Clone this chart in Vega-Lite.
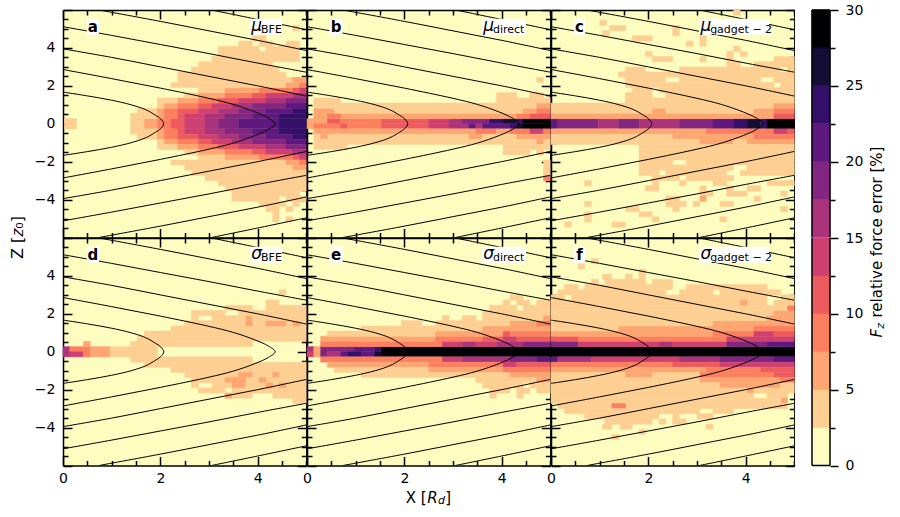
{"$schema":"https://vega.github.io/schema/vega-lite/v6.json","background":"white","padding":{"left":9,"top":3,"right":5,"bottom":5},"spacing":0,"bounds":"flush","columns":4,
"config":{"view":{"fill":"#fcfdbf","stroke":null},"text":{"font":"DejaVu Sans","color":"black"},"rect":{"strokeWidth":0.5},"axis":{"grid":false,"domainColor":"black","domainWidth":1.5,"tickColor":"black","tickWidth":1.5,"labelFont":"DejaVu Sans","labelFontSize":14,"labelColor":"black","labelOverlap":false,"labelFlush":false,"zindex":1}},
"datasets":{
"contours":[{"curve":"1","i":1,"x":0,"z":1.67},{"curve":"1","i":2,"x":0.5,"z":1.47},{"curve":"1","i":3,"x":1,"z":1.24},{"curve":"1","i":4,"x":1.4,"z":1},{"curve":"1","i":5,"x":1.7,"z":0.74},{"curve":"1","i":6,"x":1.9,"z":0.45},{"curve":"1","i":7,"x":2.01,"z":0.25},{"curve":"1","i":8,"x":2.07,"z":0},{"curve":"1","i":9,"x":2.01,"z":-0.25},{"curve":"1","i":10,"x":1.9,"z":-0.45},{"curve":"1","i":11,"x":1.7,"z":-0.74},{"curve":"1","i":12,"x":1.4,"z":-1},{"curve":"1","i":13,"x":1,"z":-1.24},{"curve":"1","i":14,"x":0.5,"z":-1.47},{"curve":"1","i":15,"x":0,"z":-1.67},
{"curve":"2","i":1,"x":0,"z":2.86},{"curve":"2","i":2,"x":1,"z":2.38},{"curve":"2","i":3,"x":2,"z":1.88},{"curve":"2","i":4,"x":3,"z":1.34},{"curve":"2","i":5,"x":3.5,"z":1.02},{"curve":"2","i":6,"x":3.95,"z":0.62},{"curve":"2","i":7,"x":4.22,"z":0.3},{"curve":"2","i":8,"x":4.36,"z":0},{"curve":"2","i":9,"x":4.22,"z":-0.3},{"curve":"2","i":10,"x":3.95,"z":-0.62},{"curve":"2","i":11,"x":3.5,"z":-1.02},{"curve":"2","i":12,"x":3,"z":-1.34},{"curve":"2","i":13,"x":2,"z":-1.88},{"curve":"2","i":14,"x":1,"z":-2.38},{"curve":"2","i":15,"x":0,"z":-2.86},
{"curve":"3u","i":1,"x":0,"z":3.95},{"curve":"3u","i":2,"x":1,"z":3.5},{"curve":"3u","i":3,"x":2,"z":3},{"curve":"3u","i":4,"x":3,"z":2.5},{"curve":"3u","i":5,"x":4,"z":2},{"curve":"3u","i":6,"x":5,"z":1.46},
{"curve":"3l","i":1,"x":0,"z":-3.95},{"curve":"3l","i":2,"x":1,"z":-3.5},{"curve":"3l","i":3,"x":2,"z":-3},{"curve":"3l","i":4,"x":3,"z":-2.5},{"curve":"3l","i":5,"x":4,"z":-2},{"curve":"3l","i":6,"x":5,"z":-1.46},
{"curve":"4u","i":1,"x":0,"z":5.12},{"curve":"4u","i":2,"x":1,"z":4.66},{"curve":"4u","i":3,"x":2,"z":4.18},{"curve":"4u","i":4,"x":3,"z":3.7},{"curve":"4u","i":5,"x":4,"z":3.2},{"curve":"4u","i":6,"x":5,"z":2.72},
{"curve":"4l","i":1,"x":0,"z":-5.12},{"curve":"4l","i":2,"x":1,"z":-4.66},{"curve":"4l","i":3,"x":2,"z":-4.18},{"curve":"4l","i":4,"x":3,"z":-3.7},{"curve":"4l","i":5,"x":4,"z":-3.2},{"curve":"4l","i":6,"x":5,"z":-2.72},
{"curve":"5u","i":1,"x":0.74,"z":6},{"curve":"5u","i":2,"x":2,"z":5.4},{"curve":"5u","i":3,"x":3,"z":4.9},{"curve":"5u","i":4,"x":4,"z":4.4},{"curve":"5u","i":5,"x":5,"z":3.86},
{"curve":"5l","i":1,"x":0.74,"z":-6},{"curve":"5l","i":2,"x":2,"z":-5.4},{"curve":"5l","i":3,"x":3,"z":-4.9},{"curve":"5l","i":4,"x":4,"z":-4.4},{"curve":"5l","i":5,"x":5,"z":-3.86},
{"curve":"6u","i":1,"x":3.05,"z":6},{"curve":"6u","i":2,"x":4,"z":5.5},{"curve":"6u","i":3,"x":5,"z":4.96},
{"curve":"6l","i":1,"x":3.05,"z":-6},{"curve":"6l","i":2,"x":4,"z":-5.5},{"curve":"6l","i":3,"x":5,"z":-4.96}],
"bar":[{"lo":0,"hi":2.5,"v":1},{"lo":2.5,"hi":5,"v":4},{"lo":5,"hi":7.5,"v":6},{"lo":7.5,"hi":10,"v":9},{"lo":10,"hi":12.5,"v":11},{"lo":12.5,"hi":15,"v":14},{"lo":15,"hi":17.5,"v":16},{"lo":17.5,"hi":20,"v":19},{"lo":20,"hi":22.5,"v":21},{"lo":22.5,"hi":25,"v":24},{"lo":25,"hi":27.5,"v":26},{"lo":27.5,"hi":30,"v":29}],
"a":[{"x":0.03,"x2":0.28,"z":-0.27,"z2":0.27,"v":4},{"x":1.39,"x2":1.67,"z":-0.27,"z2":0.27,"v":4},{"x":1.67,"x2":1.94,"z":-0.27,"z2":0.27,"v":6},{"x":1.94,"x2":2.22,"z":-0.27,"z2":0.27,"v":9},{"x":2.22,"x2":2.5,"z":-0.27,"z2":0.27,"v":11},{"x":2.5,"x2":2.92,"z":-0.27,"z2":0.27,"v":14},{"x":2.92,"x2":3.19,"z":-0.27,"z2":0.27,"v":16},{"x":3.19,"x2":3.61,"z":-0.27,"z2":0.27,"v":19},{"x":3.61,"x2":4.44,"z":-0.27,"z2":0.27,"v":21},{"x":4.44,"x2":5,"z":-0.27,"z2":0.27,"v":24},
{"x":1.39,"x2":1.94,"z":0.27,"z2":0.55,"v":4},{"x":1.94,"x2":2.08,"z":0.27,"z2":0.55,"v":6},{"x":2.08,"x2":2.36,"z":0.27,"z2":0.55,"v":9},{"x":2.36,"x2":2.5,"z":0.27,"z2":0.55,"v":11},{"x":2.5,"x2":2.92,"z":0.27,"z2":0.55,"v":14},{"x":2.92,"x2":3.33,"z":0.27,"z2":0.55,"v":16},{"x":3.33,"x2":3.89,"z":0.27,"z2":0.55,"v":19},{"x":3.89,"x2":4.44,"z":0.27,"z2":0.55,"v":21},{"x":4.44,"x2":5,"z":0.27,"z2":0.55,"v":24},
{"x":1.39,"x2":1.94,"z":-0.55,"z2":-0.27,"v":4},{"x":1.94,"x2":2.08,"z":-0.55,"z2":-0.27,"v":6},{"x":2.08,"x2":2.36,"z":-0.55,"z2":-0.27,"v":9},{"x":2.36,"x2":2.5,"z":-0.55,"z2":-0.27,"v":11},{"x":2.5,"x2":2.92,"z":-0.55,"z2":-0.27,"v":14},{"x":2.92,"x2":3.33,"z":-0.55,"z2":-0.27,"v":16},{"x":3.33,"x2":3.89,"z":-0.55,"z2":-0.27,"v":19},{"x":3.89,"x2":4.44,"z":-0.55,"z2":-0.27,"v":21},{"x":4.44,"x2":5,"z":-0.55,"z2":-0.27,"v":24},
{"x":1.53,"x2":1.94,"z":0.55,"z2":0.82,"v":4},{"x":1.94,"x2":2.08,"z":0.55,"z2":0.82,"v":6},{"x":2.08,"x2":2.36,"z":0.55,"z2":0.82,"v":9},{"x":2.36,"x2":2.78,"z":0.55,"z2":0.82,"v":11},{"x":2.78,"x2":3.19,"z":0.55,"z2":0.82,"v":14},{"x":3.19,"x2":3.61,"z":0.55,"z2":0.82,"v":16},{"x":3.61,"x2":4.17,"z":0.55,"z2":0.82,"v":19},{"x":4.17,"x2":4.72,"z":0.55,"z2":0.82,"v":21},{"x":4.72,"x2":5,"z":0.55,"z2":0.82,"v":24},
{"x":1.53,"x2":1.94,"z":-0.82,"z2":-0.55,"v":4},{"x":1.94,"x2":2.08,"z":-0.82,"z2":-0.55,"v":6},{"x":2.08,"x2":2.36,"z":-0.82,"z2":-0.55,"v":9},{"x":2.36,"x2":2.78,"z":-0.82,"z2":-0.55,"v":11},{"x":2.78,"x2":3.19,"z":-0.82,"z2":-0.55,"v":14},{"x":3.19,"x2":3.61,"z":-0.82,"z2":-0.55,"v":16},{"x":3.61,"x2":4.17,"z":-0.82,"z2":-0.55,"v":19},{"x":4.17,"x2":4.72,"z":-0.82,"z2":-0.55,"v":21},{"x":4.72,"x2":5,"z":-0.82,"z2":-0.55,"v":24},
{"x":1.94,"x2":2.08,"z":0.82,"z2":1.09,"v":4},{"x":2.08,"x2":2.36,"z":0.82,"z2":1.09,"v":6},{"x":2.36,"x2":2.78,"z":0.82,"z2":1.09,"v":9},{"x":2.78,"x2":3.06,"z":0.82,"z2":1.09,"v":11},{"x":3.06,"x2":3.47,"z":0.82,"z2":1.09,"v":14},{"x":3.47,"x2":3.89,"z":0.82,"z2":1.09,"v":16},{"x":3.89,"x2":4.58,"z":0.82,"z2":1.09,"v":19},{"x":4.58,"x2":5,"z":0.82,"z2":1.09,"v":21},
{"x":1.94,"x2":2.08,"z":-1.09,"z2":-0.82,"v":4},{"x":2.08,"x2":2.36,"z":-1.09,"z2":-0.82,"v":6},{"x":2.36,"x2":2.78,"z":-1.09,"z2":-0.82,"v":9},{"x":2.78,"x2":3.06,"z":-1.09,"z2":-0.82,"v":11},{"x":3.06,"x2":3.47,"z":-1.09,"z2":-0.82,"v":14},{"x":3.47,"x2":3.89,"z":-1.09,"z2":-0.82,"v":16},{"x":3.89,"x2":4.58,"z":-1.09,"z2":-0.82,"v":19},{"x":4.58,"x2":5,"z":-1.09,"z2":-0.82,"v":21},
{"x":1.94,"x2":2.36,"z":1.09,"z2":1.36,"v":4},{"x":2.36,"x2":2.78,"z":1.09,"z2":1.36,"v":6},{"x":2.78,"x2":3.19,"z":1.09,"z2":1.36,"v":9},{"x":3.19,"x2":3.61,"z":1.09,"z2":1.36,"v":11},{"x":3.61,"x2":4.17,"z":1.09,"z2":1.36,"v":14},{"x":4.17,"x2":4.58,"z":1.09,"z2":1.36,"v":16},{"x":4.58,"x2":5,"z":1.09,"z2":1.36,"v":19},
{"x":1.94,"x2":2.36,"z":-1.36,"z2":-1.09,"v":4},{"x":2.36,"x2":2.78,"z":-1.36,"z2":-1.09,"v":6},{"x":2.78,"x2":3.19,"z":-1.36,"z2":-1.09,"v":9},{"x":3.19,"x2":3.61,"z":-1.36,"z2":-1.09,"v":11},{"x":3.61,"x2":4.17,"z":-1.36,"z2":-1.09,"v":14},{"x":4.17,"x2":4.58,"z":-1.36,"z2":-1.09,"v":16},{"x":4.58,"x2":5,"z":-1.36,"z2":-1.09,"v":19},
{"x":2.5,"x2":2.78,"z":1.36,"z2":1.64,"v":4},{"x":2.78,"x2":3.33,"z":1.36,"z2":1.64,"v":6},{"x":3.33,"x2":3.89,"z":1.36,"z2":1.64,"v":9},{"x":3.89,"x2":4.17,"z":1.36,"z2":1.64,"v":11},{"x":4.17,"x2":4.72,"z":1.36,"z2":1.64,"v":14},{"x":4.72,"x2":5,"z":1.36,"z2":1.64,"v":16},
{"x":2.5,"x2":2.78,"z":-1.64,"z2":-1.36,"v":4},{"x":2.78,"x2":3.33,"z":-1.64,"z2":-1.36,"v":6},{"x":3.33,"x2":3.89,"z":-1.64,"z2":-1.36,"v":9},{"x":3.89,"x2":4.17,"z":-1.64,"z2":-1.36,"v":11},{"x":4.17,"x2":4.72,"z":-1.64,"z2":-1.36,"v":14},{"x":4.72,"x2":5,"z":-1.64,"z2":-1.36,"v":16},
{"x":2.78,"x2":3.33,"z":1.64,"z2":1.91,"v":4},{"x":3.33,"x2":4.03,"z":1.64,"z2":1.91,"v":6},{"x":4.03,"x2":4.72,"z":1.64,"z2":1.91,"v":9},{"x":4.72,"x2":4.86,"z":1.64,"z2":1.91,"v":11},{"x":4.86,"x2":5,"z":1.64,"z2":1.91,"v":14},
{"x":2.78,"x2":3.33,"z":-1.91,"z2":-1.64,"v":4},{"x":3.33,"x2":4.03,"z":-1.91,"z2":-1.64,"v":6},{"x":4.03,"x2":4.72,"z":-1.91,"z2":-1.64,"v":9},{"x":4.72,"x2":4.86,"z":-1.91,"z2":-1.64,"v":11},{"x":4.86,"x2":5,"z":-1.91,"z2":-1.64,"v":14},
{"x":2.22,"x2":4.58,"z":1.91,"z2":2.18,"v":4},{"x":4.58,"x2":4.86,"z":1.91,"z2":2.18,"v":6},{"x":4.86,"x2":5,"z":1.91,"z2":2.18,"v":9},{"x":2.36,"x2":4.72,"z":2.18,"z2":2.45,"v":4},{"x":4.72,"x2":5,"z":2.18,"z2":2.45,"v":6},{"x":2.36,"x2":4.58,"z":2.45,"z2":2.73,"v":4},{"x":2.64,"x2":4.44,"z":2.73,"z2":3,"v":4},{"x":2.78,"x2":4.31,"z":3,"z2":3.27,"v":4},{"x":3.06,"x2":4.86,"z":3.27,"z2":3.55,"v":4},{"x":3.19,"x2":4.86,"z":3.55,"z2":3.82,"v":4},{"x":3.19,"x2":4.03,"z":3.82,"z2":4.09,"v":4},{"x":4.17,"x2":4.86,"z":3.82,"z2":4.09,"v":4},{"x":3.61,"x2":3.89,"z":4.09,"z2":4.36,"v":4},{"x":4.03,"x2":4.31,"z":4.09,"z2":4.36,"v":4},{"x":4.58,"x2":4.86,"z":4.09,"z2":4.36,"v":4},{"x":3.89,"x2":4.17,"z":4.36,"z2":4.64,"v":4},{"x":4.72,"x2":4.86,"z":4.91,"z2":5.18,"v":4},
{"x":2.22,"x2":4.58,"z":-2.18,"z2":-1.91,"v":4},{"x":4.58,"x2":4.86,"z":-2.18,"z2":-1.91,"v":6},{"x":4.86,"x2":5,"z":-2.18,"z2":-1.91,"v":9},{"x":2.5,"x2":4.72,"z":-2.45,"z2":-2.18,"v":4},{"x":4.72,"x2":5,"z":-2.45,"z2":-2.18,"v":6},{"x":2.64,"x2":5,"z":-2.73,"z2":-2.45,"v":4},{"x":2.92,"x2":5,"z":-3,"z2":-2.73,"v":4},{"x":3.19,"x2":5,"z":-3.27,"z2":-3,"v":4},{"x":3.33,"x2":5,"z":-3.55,"z2":-3.27,"v":4},{"x":3.47,"x2":4.86,"z":-3.82,"z2":-3.55,"v":4},{"x":3.47,"x2":4.44,"z":-4.09,"z2":-3.82,"v":4},{"x":4.58,"x2":5,"z":-4.09,"z2":-3.82,"v":4},{"x":4.03,"x2":4.58,"z":-4.36,"z2":-4.09,"v":4},{"x":4.72,"x2":4.86,"z":-4.36,"z2":-4.09,"v":4},{"x":4.17,"x2":4.44,"z":-4.64,"z2":-4.36,"v":4},{"x":4.58,"x2":4.72,"z":-4.64,"z2":-4.36,"v":4},{"x":4.31,"x2":4.44,"z":-4.91,"z2":-4.64,"v":4},{"x":4.31,"x2":4.44,"z":-5.18,"z2":-4.91,"v":4},{"x":4.58,"x2":4.72,"z":-5.18,"z2":-4.91,"v":4}],
"b":[{"x":0,"x2":0.42,"z":0,"z2":0.27,"v":6},{"x":0.42,"x2":0.69,"z":0,"z2":0.27,"v":11},{"x":0.69,"x2":1.53,"z":0,"z2":0.27,"v":9},{"x":1.53,"x2":2.5,"z":0,"z2":0.27,"v":11},{"x":2.5,"x2":2.92,"z":0,"z2":0.27,"v":14},{"x":2.92,"x2":3.19,"z":0,"z2":0.27,"v":16},{"x":3.19,"x2":3.75,"z":0,"z2":0.27,"v":19},{"x":3.75,"x2":4.03,"z":0,"z2":0.27,"v":24},{"x":4.03,"x2":4.31,"z":0,"z2":0.27,"v":26},{"x":4.31,"x2":4.44,"z":0,"z2":0.27,"v":24},{"x":4.44,"x2":5,"z":0,"z2":0.27,"v":29},
{"x":0,"x2":0.14,"z":-0.27,"z2":0,"v":6},{"x":0.14,"x2":0.69,"z":-0.27,"z2":0,"v":9},{"x":0.69,"x2":0.83,"z":-0.27,"z2":0,"v":11},{"x":0.83,"x2":1.53,"z":-0.27,"z2":0,"v":9},{"x":1.53,"x2":2.5,"z":-0.27,"z2":0,"v":11},{"x":2.5,"x2":2.92,"z":-0.27,"z2":0,"v":14},{"x":2.92,"x2":3.33,"z":-0.27,"z2":0,"v":16},{"x":3.33,"x2":3.47,"z":-0.27,"z2":0,"v":21},{"x":3.47,"x2":3.61,"z":-0.27,"z2":0,"v":16},{"x":3.61,"x2":4.17,"z":-0.27,"z2":0,"v":21},{"x":4.17,"x2":4.31,"z":-0.27,"z2":0,"v":24},{"x":4.31,"x2":4.44,"z":-0.27,"z2":0,"v":26},{"x":4.44,"x2":5,"z":-0.27,"z2":0,"v":29},
{"x":0.14,"x2":4.31,"z":0.27,"z2":0.55,"v":6},{"x":0.42,"x2":0.69,"z":0.27,"z2":0.55,"v":9},{"x":4.31,"x2":4.58,"z":0.27,"z2":0.55,"v":9},{"x":4.58,"x2":5,"z":0.27,"z2":0.55,"v":11},
{"x":0.14,"x2":3.47,"z":-0.55,"z2":-0.27,"v":6},{"x":3.47,"x2":3.89,"z":-0.55,"z2":-0.27,"v":9},{"x":3.89,"x2":4.17,"z":-0.55,"z2":-0.27,"v":6},{"x":4.17,"x2":4.58,"z":-0.55,"z2":-0.27,"v":9},{"x":4.58,"x2":4.86,"z":-0.55,"z2":-0.27,"v":14},{"x":4.86,"x2":5,"z":-0.55,"z2":-0.27,"v":9},
{"x":0.14,"x2":0.56,"z":0.55,"z2":0.82,"v":6},{"x":0.56,"x2":4.44,"z":0.55,"z2":0.82,"v":4},{"x":4.44,"x2":4.72,"z":0.55,"z2":0.82,"v":6},{"x":4.72,"x2":5,"z":0.55,"z2":0.82,"v":9},
{"x":0.14,"x2":3.33,"z":-0.82,"z2":-0.55,"v":4},{"x":0.28,"x2":0.42,"z":-0.82,"z2":-0.55,"v":6},{"x":3.33,"x2":3.61,"z":-0.82,"z2":-0.55,"v":6},{"x":3.61,"x2":4.31,"z":-0.82,"z2":-0.55,"v":4},{"x":4.31,"x2":5,"z":-0.82,"z2":-0.55,"v":6},
{"x":0.14,"x2":4.72,"z":0.82,"z2":1.09,"v":4},{"x":4.72,"x2":5,"z":0.82,"z2":1.09,"v":6},{"x":0.14,"x2":4.72,"z":-1.09,"z2":-0.82,"v":4},{"x":4.72,"x2":4.86,"z":-1.09,"z2":-0.82,"v":6},{"x":4.86,"x2":5,"z":-1.09,"z2":-0.82,"v":4},
{"x":0.14,"x2":0.69,"z":1.09,"z2":1.36,"v":4},{"x":3.89,"x2":5,"z":1.09,"z2":1.36,"v":4},{"x":0.14,"x2":0.83,"z":-1.36,"z2":-1.09,"v":4},{"x":4.03,"x2":5,"z":-1.36,"z2":-1.09,"v":4},{"x":3.89,"x2":4.31,"z":1.36,"z2":1.64,"v":4},{"x":4.58,"x2":4.86,"z":1.36,"z2":1.64,"v":4},{"x":4.03,"x2":4.58,"z":-1.64,"z2":-1.36,"v":4},{"x":4.72,"x2":4.86,"z":-1.64,"z2":-1.36,"v":4},{"x":4.72,"x2":4.86,"z":2.18,"z2":2.45,"v":4},{"x":4.86,"x2":5,"z":-2.45,"z2":-1.91,"v":4},{"x":4.86,"x2":5,"z":-3,"z2":-2.73,"v":9},{"x":4.86,"x2":5,"z":-2.73,"z2":-2.45,"v":4}],
"c":[{"x":0,"x2":0.14,"z":-0.27,"z2":0.27,"v":21},{"x":0.14,"x2":0.97,"z":-0.27,"z2":0.27,"v":19},{"x":0.97,"x2":1.39,"z":-0.27,"z2":0.27,"v":16},{"x":1.39,"x2":1.81,"z":-0.27,"z2":0.27,"v":19},{"x":1.81,"x2":2.64,"z":-0.27,"z2":0.27,"v":16},{"x":2.64,"x2":3.33,"z":-0.27,"z2":0.27,"v":19},{"x":3.33,"x2":3.75,"z":-0.27,"z2":0.27,"v":21},{"x":3.75,"x2":4.03,"z":-0.27,"z2":0.27,"v":24},{"x":4.03,"x2":4.31,"z":-0.27,"z2":0.27,"v":26},{"x":4.31,"x2":4.44,"z":-0.27,"z2":0.27,"v":24},{"x":4.44,"x2":5,"z":-0.27,"z2":0.27,"v":29},
{"x":0,"x2":4.58,"z":0.27,"z2":0.55,"v":6},{"x":4.58,"x2":5,"z":0.27,"z2":0.55,"v":11},{"x":0,"x2":3.19,"z":-0.55,"z2":-0.27,"v":6},{"x":3.19,"x2":4.58,"z":-0.55,"z2":-0.27,"v":9},{"x":4.58,"x2":4.86,"z":-0.55,"z2":-0.27,"v":14},{"x":4.86,"x2":5,"z":-0.55,"z2":-0.27,"v":11},
{"x":0,"x2":2.08,"z":0.55,"z2":0.82,"v":4},{"x":2.08,"x2":2.36,"z":0.55,"z2":0.82,"v":6},{"x":2.36,"x2":4.17,"z":0.55,"z2":0.82,"v":4},{"x":4.17,"x2":4.58,"z":0.55,"z2":0.82,"v":6},{"x":4.58,"x2":5,"z":0.55,"z2":0.82,"v":9},{"x":0,"x2":2.5,"z":-0.82,"z2":-0.55,"v":4},{"x":2.5,"x2":4.17,"z":-0.82,"z2":-0.55,"v":6},{"x":4.17,"x2":5,"z":-0.82,"z2":-0.55,"v":9},
{"x":0,"x2":4.58,"z":0.82,"z2":1.09,"v":4},{"x":4.58,"x2":5,"z":0.82,"z2":1.09,"v":6},{"x":0,"x2":3.06,"z":-1.09,"z2":-0.82,"v":4},{"x":3.06,"x2":3.75,"z":-1.09,"z2":-0.82,"v":6},{"x":3.75,"x2":4.03,"z":-1.09,"z2":-0.82,"v":4},{"x":4.03,"x2":5,"z":-1.09,"z2":-0.82,"v":6},
{"x":1.53,"x2":5,"z":1.09,"z2":1.36,"v":4},{"x":1.81,"x2":5,"z":-1.36,"z2":-1.09,"v":4},{"x":1.53,"x2":2.08,"z":1.36,"z2":1.64,"v":4},{"x":2.36,"x2":5,"z":1.36,"z2":1.64,"v":4},{"x":1.81,"x2":5,"z":-1.64,"z2":-1.36,"v":4},{"x":1.67,"x2":2.08,"z":1.64,"z2":1.91,"v":4},{"x":2.22,"x2":5,"z":1.64,"z2":1.91,"v":4},{"x":1.81,"x2":5,"z":-1.91,"z2":-1.64,"v":4},
{"x":1.53,"x2":4.58,"z":1.91,"z2":2.18,"v":4},{"x":4.72,"x2":5,"z":1.91,"z2":2.18,"v":4},{"x":1.81,"x2":2.5,"z":-2.18,"z2":-1.91,"v":4},{"x":2.78,"x2":5,"z":-2.18,"z2":-1.91,"v":4},{"x":1.53,"x2":2.36,"z":2.18,"z2":2.45,"v":4},{"x":2.64,"x2":4.31,"z":2.18,"z2":2.45,"v":4},{"x":4.58,"x2":5,"z":2.18,"z2":2.45,"v":4},{"x":1.81,"x2":3.75,"z":-2.45,"z2":-2.18,"v":4},{"x":4.03,"x2":5,"z":-2.45,"z2":-2.18,"v":4},
{"x":1.39,"x2":5,"z":2.45,"z2":2.73,"v":4},{"x":1.81,"x2":2.22,"z":-2.73,"z2":-2.45,"v":4},{"x":2.36,"x2":3.61,"z":-2.73,"z2":-2.45,"v":4},{"x":3.89,"x2":5,"z":-2.73,"z2":-2.45,"v":4},{"x":1.53,"x2":1.94,"z":2.73,"z2":3,"v":4},{"x":2.64,"x2":4.72,"z":2.73,"z2":3,"v":4},{"x":4.86,"x2":5,"z":2.73,"z2":3,"v":4},{"x":2.08,"x2":2.64,"z":-3,"z2":-2.73,"v":4},{"x":2.78,"x2":3.75,"z":-3,"z2":-2.73,"v":4},{"x":3.61,"x2":3.89,"z":3,"z2":3.27,"v":4},{"x":4.17,"x2":5,"z":3,"z2":3.27,"v":4},{"x":0.69,"x2":0.83,"z":-3.27,"z2":-3,"v":4},{"x":2.08,"x2":2.22,"z":-3.27,"z2":-3,"v":4},{"x":2.64,"x2":2.78,"z":-3.27,"z2":-3,"v":4},{"x":3.33,"x2":3.61,"z":-3.27,"z2":-3,"v":4},{"x":4.44,"x2":5,"z":-3.27,"z2":-3,"v":4},
{"x":2.08,"x2":2.5,"z":3.27,"z2":3.55,"v":4},{"x":3.06,"x2":3.19,"z":3.27,"z2":3.55,"v":4},{"x":3.61,"x2":3.75,"z":3.27,"z2":3.55,"v":4},{"x":4.58,"x2":5,"z":3.27,"z2":3.55,"v":4},{"x":1.94,"x2":2.08,"z":3.55,"z2":3.82,"v":4},{"x":3.61,"x2":3.75,"z":3.55,"z2":3.82,"v":4},{"x":3.89,"x2":4.03,"z":3.55,"z2":3.82,"v":4},{"x":3.75,"x2":3.89,"z":3.82,"z2":4.09,"v":4},{"x":2.78,"x2":2.92,"z":4.09,"z2":4.36,"v":4},{"x":3.06,"x2":3.19,"z":4.09,"z2":4.64,"v":4},{"x":1.67,"x2":2.08,"z":4.36,"z2":4.64,"v":4},{"x":1.06,"x2":1.2,"z":4.64,"z2":4.91,"v":4},{"x":2.5,"x2":2.64,"z":4.64,"z2":5.18,"v":4},{"x":1.2,"x2":1.53,"z":4.91,"z2":5.18,"v":4},{"x":1.0,"x2":1.14,"z":5.18,"z2":5.45,"v":4},{"x":3.75,"x2":3.89,"z":5.73,"z2":6,"v":4},
{"x":3.06,"x2":3.19,"z":-3.55,"z2":-3.27,"v":4},{"x":1.94,"x2":2.22,"z":-3.55,"z2":-3.27,"v":4},{"x":3.6,"x2":3.75,"z":-3.55,"z2":-3.27,"v":4},{"x":4.03,"x2":4.31,"z":-3.55,"z2":-3.27,"v":4},{"x":3.06,"x2":3.19,"z":-3.82,"z2":-3.55,"v":4},{"x":3.19,"x2":3.33,"z":-3.82,"z2":-3.55,"v":4},{"x":3.61,"x2":4.03,"z":-3.82,"z2":-3.55,"v":4},{"x":2.36,"x2":2.64,"z":-4.09,"z2":-3.82,"v":4},{"x":3.06,"x2":3.19,"z":-4.09,"z2":-3.82,"v":6},{"x":4.17,"x2":4.31,"z":-4.09,"z2":-3.82,"v":4},{"x":4.72,"x2":4.86,"z":-3.82,"z2":-3.55,"v":4},{"x":0.69,"x2":0.83,"z":-4.36,"z2":-4.09,"v":4},{"x":2.36,"x2":2.78,"z":-4.36,"z2":-4.09,"v":4},{"x":2.92,"x2":3.06,"z":-4.36,"z2":-4.09,"v":4},{"x":3.47,"x2":3.75,"z":-4.36,"z2":-4.09,"v":4},{"x":4.72,"x2":4.86,"z":-4.64,"z2":-4.36,"v":4},{"x":1.53,"x2":1.81,"z":-4.64,"z2":-4.36,"v":4},{"x":2.5,"x2":2.64,"z":-4.64,"z2":-4.36,"v":4},{"x":0.69,"x2":0.83,"z":-5.18,"z2":-4.64,"v":4},{"x":1.81,"x2":2.08,"z":-4.91,"z2":-4.64,"v":4},{"x":3.47,"x2":3.61,"z":-5.18,"z2":-4.91,"v":4},{"x":0.28,"x2":0.42,"z":-5.45,"z2":-5.18,"v":4},{"x":1.25,"x2":1.53,"z":-5.45,"z2":-5.18,"v":4},{"x":2.08,"x2":2.22,"z":-5.18,"z2":-4.91,"v":4}],
"d":[{"x":0,"x2":0.14,"z":-0.27,"z2":0.27,"v":16},{"x":0.14,"x2":0.42,"z":0,"z2":0.27,"v":9},{"x":0.14,"x2":0.42,"z":-0.27,"z2":0,"v":14},{"x":0.42,"x2":0.56,"z":-0.27,"z2":0.27,"v":9},{"x":0.56,"x2":0.97,"z":-0.27,"z2":0.27,"v":6},{"x":0.97,"x2":1.94,"z":-0.27,"z2":0.27,"v":4},{"x":0.42,"x2":0.56,"z":0.27,"z2":0.55,"v":6},
{"x":1.39,"x2":3.89,"z":0.27,"z2":0.55,"v":4},{"x":1.39,"x2":3.89,"z":-0.55,"z2":-0.27,"v":4},{"x":1.53,"x2":5,"z":0.55,"z2":0.82,"v":4},{"x":1.67,"x2":5,"z":-0.82,"z2":-0.55,"v":4},{"x":1.67,"x2":5,"z":0.82,"z2":1.09,"v":4},{"x":2.22,"x2":5,"z":-1.09,"z2":-0.82,"v":4},{"x":2.22,"x2":5,"z":1.09,"z2":1.36,"v":4},{"x":2.5,"x2":5,"z":-1.36,"z2":-1.09,"v":4},{"x":3.61,"x2":3.89,"z":-1.36,"z2":-1.09,"v":6},{"x":4.31,"x2":4.44,"z":-1.36,"z2":-1.09,"v":6},
{"x":2.5,"x2":5,"z":1.36,"z2":1.64,"v":4},{"x":4.17,"x2":4.58,"z":1.36,"z2":1.64,"v":6},{"x":4.72,"x2":4.86,"z":1.36,"z2":1.64,"v":6},{"x":3.75,"x2":3.89,"z":1.36,"z2":1.91,"v":6},{"x":2.64,"x2":2.78,"z":1.64,"z2":1.91,"v":4},{"x":3.06,"x2":3.75,"z":1.64,"z2":1.91,"v":4},{"x":3.89,"x2":5,"z":1.64,"z2":1.91,"v":4},{"x":2.64,"x2":3.33,"z":1.91,"z2":2.18,"v":4},{"x":3.61,"x2":5,"z":1.91,"z2":2.18,"v":4},{"x":3.33,"x2":3.89,"z":2.18,"z2":2.45,"v":4},{"x":4.17,"x2":5,"z":2.18,"z2":2.45,"v":4},{"x":4.17,"x2":4.44,"z":2.45,"z2":2.73,"v":4},{"x":4.44,"x2":4.58,"z":3,"z2":3.27,"v":4},
{"x":2.64,"x2":5,"z":-1.64,"z2":-1.36,"v":4},{"x":3.33,"x2":3.47,"z":-1.64,"z2":-1.36,"v":6},{"x":3.47,"x2":3.75,"z":-1.91,"z2":-1.36,"v":6},{"x":4.03,"x2":4.17,"z":-1.64,"z2":-1.36,"v":6},{"x":2.64,"x2":2.78,"z":-1.91,"z2":-1.64,"v":4},{"x":3.06,"x2":3.47,"z":-1.91,"z2":-1.64,"v":4},{"x":3.75,"x2":5,"z":-1.91,"z2":-1.64,"v":4},{"x":4.17,"x2":4.31,"z":-1.91,"z2":-1.64,"v":6},{"x":4.44,"x2":4.58,"z":-1.91,"z2":-1.64,"v":6},{"x":2.78,"x2":3.33,"z":-2.18,"z2":-1.91,"v":4},{"x":3.47,"x2":5,"z":-2.18,"z2":-1.91,"v":4},{"x":3.33,"x2":3.47,"z":-2.45,"z2":-2.18,"v":6},{"x":3.47,"x2":3.89,"z":-2.45,"z2":-2.18,"v":4},{"x":4.31,"x2":5,"z":-2.45,"z2":-2.18,"v":4},{"x":4.72,"x2":5,"z":-2.73,"z2":-2.45,"v":4}],
"e":[{"x":0,"x2":0.14,"z":0,"z2":0.27,"v":16},{"x":0,"x2":0.14,"z":-0.27,"z2":0,"v":14},{"x":0.14,"x2":0.28,"z":-0.27,"z2":0.27,"v":6},{"x":0.28,"x2":0.42,"z":-0.27,"z2":0.27,"v":19},{"x":0.42,"x2":0.97,"z":0,"z2":0.27,"v":19},{"x":0.97,"x2":1.39,"z":0,"z2":0.27,"v":21},{"x":1.39,"x2":1.53,"z":0,"z2":0.27,"v":24},{"x":0.42,"x2":0.69,"z":-0.27,"z2":0,"v":16},{"x":0.69,"x2":0.83,"z":-0.27,"z2":0,"v":21},{"x":0.83,"x2":1.11,"z":-0.27,"z2":0,"v":24},{"x":1.11,"x2":1.39,"z":-0.27,"z2":0,"v":21},{"x":1.39,"x2":1.53,"z":-0.27,"z2":0,"v":26},{"x":1.53,"x2":5,"z":-0.27,"z2":0.27,"v":29},
{"x":0.28,"x2":2.78,"z":0.27,"z2":0.55,"v":9},{"x":2.78,"x2":3.19,"z":0.27,"z2":0.55,"v":14},{"x":3.19,"x2":3.47,"z":0.27,"z2":0.55,"v":16},{"x":3.47,"x2":3.89,"z":0.27,"z2":0.55,"v":14},{"x":3.89,"x2":4.44,"z":0.27,"z2":0.55,"v":16},{"x":4.44,"x2":5,"z":0.27,"z2":0.55,"v":19},
{"x":0.28,"x2":2.78,"z":-0.55,"z2":-0.27,"v":9},{"x":2.78,"x2":3.19,"z":-0.55,"z2":-0.27,"v":14},{"x":3.19,"x2":4.17,"z":-0.55,"z2":-0.27,"v":16},{"x":4.17,"x2":4.72,"z":-0.55,"z2":-0.27,"v":19},{"x":4.72,"x2":5,"z":-0.55,"z2":-0.27,"v":21},
{"x":0.28,"x2":2.64,"z":0.55,"z2":0.82,"v":6},{"x":2.64,"x2":3.61,"z":0.55,"z2":0.82,"v":9},{"x":3.61,"x2":4.03,"z":0.55,"z2":0.82,"v":11},{"x":4.03,"x2":4.31,"z":0.55,"z2":0.82,"v":14},{"x":4.31,"x2":5,"z":0.55,"z2":0.82,"v":11},
{"x":0.42,"x2":2.5,"z":-0.82,"z2":-0.55,"v":6},{"x":2.5,"x2":4.03,"z":-0.82,"z2":-0.55,"v":9},{"x":4.03,"x2":4.31,"z":-0.82,"z2":-0.55,"v":14},{"x":4.31,"x2":5,"z":-0.82,"z2":-0.55,"v":11},
{"x":0.42,"x2":2.64,"z":0.82,"z2":1.09,"v":4},{"x":2.64,"x2":4.03,"z":0.82,"z2":1.09,"v":6},{"x":4.03,"x2":4.17,"z":0.82,"z2":1.09,"v":11},{"x":4.17,"x2":5,"z":0.82,"z2":1.09,"v":9},{"x":0.56,"x2":2.5,"z":-1.09,"z2":-0.82,"v":4},{"x":2.5,"x2":4.03,"z":-1.09,"z2":-0.82,"v":6},{"x":4.03,"x2":5,"z":-1.09,"z2":-0.82,"v":9},
{"x":1.11,"x2":3.61,"z":1.09,"z2":1.36,"v":4},{"x":3.61,"x2":5,"z":1.09,"z2":1.36,"v":6},{"x":1.11,"x2":4.17,"z":-1.36,"z2":-1.09,"v":4},{"x":4.17,"x2":5,"z":-1.36,"z2":-1.09,"v":6},
{"x":1.94,"x2":2.36,"z":1.36,"z2":1.64,"v":4},{"x":2.64,"x2":4.17,"z":1.36,"z2":1.64,"v":4},{"x":4.17,"x2":4.72,"z":1.36,"z2":1.64,"v":6},{"x":4.72,"x2":5,"z":1.36,"z2":1.64,"v":9},{"x":3.47,"x2":4.72,"z":-1.64,"z2":-1.36,"v":4},{"x":4.72,"x2":5,"z":-1.64,"z2":-1.36,"v":6},
{"x":2.78,"x2":2.92,"z":1.64,"z2":1.91,"v":4},{"x":3.19,"x2":3.47,"z":1.64,"z2":1.91,"v":4},{"x":3.61,"x2":4.86,"z":1.64,"z2":1.91,"v":4},{"x":4.86,"x2":5,"z":1.64,"z2":1.91,"v":6},{"x":3.61,"x2":4.44,"z":-1.91,"z2":-1.64,"v":4},{"x":4.58,"x2":5,"z":-1.91,"z2":-1.64,"v":4},
{"x":3.61,"x2":5,"z":1.91,"z2":2.18,"v":4},{"x":3.75,"x2":4.17,"z":-2.18,"z2":-1.91,"v":4},{"x":4.31,"x2":4.58,"z":-2.18,"z2":-1.91,"v":4},{"x":4.72,"x2":5,"z":-2.18,"z2":-1.91,"v":4},{"x":3.75,"x2":4.31,"z":2.18,"z2":2.45,"v":4},{"x":4.44,"x2":5,"z":2.18,"z2":2.45,"v":4},{"x":3.75,"x2":3.89,"z":-2.45,"z2":-2.18,"v":4},{"x":4.31,"x2":4.44,"z":-2.45,"z2":-2.18,"v":4},{"x":4.03,"x2":4.17,"z":2.45,"z2":2.73,"v":4},{"x":4.31,"x2":4.58,"z":2.45,"z2":2.73,"v":4},{"x":4.72,"x2":5,"z":2.45,"z2":2.73,"v":4},{"x":4.17,"x2":4.44,"z":2.73,"z2":3,"v":4}],
"f":[{"x":0,"x2":5,"z":-0.27,"z2":0.27,"v":29},{"x":0,"x2":0.56,"z":0.27,"z2":0.55,"v":19},{"x":0.56,"x2":2.22,"z":0.27,"z2":0.55,"v":14},{"x":2.22,"x2":2.5,"z":0.27,"z2":0.55,"v":16},{"x":2.5,"x2":3.61,"z":0.27,"z2":0.55,"v":14},{"x":3.61,"x2":4.44,"z":0.27,"z2":0.55,"v":19},{"x":4.44,"x2":5,"z":0.27,"z2":0.55,"v":21},
{"x":0,"x2":0.14,"z":-0.55,"z2":-0.27,"v":21},{"x":0.14,"x2":0.83,"z":-0.55,"z2":-0.27,"v":16},{"x":0.83,"x2":2.64,"z":-0.55,"z2":-0.27,"v":14},{"x":2.64,"x2":3.47,"z":-0.55,"z2":-0.27,"v":16},{"x":3.47,"x2":4.58,"z":-0.55,"z2":-0.27,"v":19},{"x":4.58,"x2":5,"z":-0.55,"z2":-0.27,"v":21},
{"x":0,"x2":0.56,"z":0.55,"z2":0.82,"v":11},{"x":0.56,"x2":3.61,"z":0.55,"z2":0.82,"v":9},{"x":3.61,"x2":5,"z":0.55,"z2":0.82,"v":14},{"x":0,"x2":2.5,"z":-0.82,"z2":-0.55,"v":9},{"x":2.5,"x2":3.47,"z":-0.82,"z2":-0.55,"v":11},{"x":3.47,"x2":5,"z":-0.82,"z2":-0.55,"v":14},
{"x":0,"x2":3.33,"z":0.82,"z2":1.09,"v":6},{"x":3.33,"x2":4.17,"z":0.82,"z2":1.09,"v":9},{"x":4.17,"x2":4.58,"z":0.82,"z2":1.09,"v":14},{"x":4.58,"x2":5,"z":0.82,"z2":1.09,"v":11},{"x":0,"x2":3.19,"z":-1.09,"z2":-0.82,"v":6},{"x":3.19,"x2":4.31,"z":-1.09,"z2":-0.82,"v":9},{"x":4.31,"x2":5,"z":-1.09,"z2":-0.82,"v":11},
{"x":0,"x2":1.39,"z":1.09,"z2":1.36,"v":4},{"x":1.39,"x2":4.17,"z":1.09,"z2":1.36,"v":6},{"x":4.17,"x2":5,"z":1.09,"z2":1.36,"v":9},{"x":0,"x2":1.53,"z":-1.36,"z2":-1.09,"v":4},{"x":1.53,"x2":2.08,"z":-1.36,"z2":-1.09,"v":6},{"x":2.08,"x2":3.06,"z":-1.36,"z2":-1.09,"v":4},{"x":3.06,"x2":4.58,"z":-1.36,"z2":-1.09,"v":9},{"x":4.58,"x2":5,"z":-1.36,"z2":-1.09,"v":11},
{"x":0,"x2":3.33,"z":1.36,"z2":1.64,"v":4},{"x":3.33,"x2":5,"z":1.36,"z2":1.64,"v":6},{"x":0,"x2":3.06,"z":-1.64,"z2":-1.36,"v":4},{"x":3.06,"x2":4.72,"z":-1.64,"z2":-1.36,"v":6},{"x":4.72,"x2":5,"z":-1.64,"z2":-1.36,"v":9},
{"x":0,"x2":4.44,"z":1.64,"z2":1.91,"v":4},{"x":4.44,"x2":5,"z":1.64,"z2":1.91,"v":6},{"x":0,"x2":3.47,"z":-1.91,"z2":-1.64,"v":4},{"x":3.47,"x2":4.72,"z":-1.91,"z2":-1.64,"v":6},{"x":4.72,"x2":5,"z":-1.91,"z2":-1.64,"v":4},
{"x":0,"x2":4.58,"z":1.91,"z2":2.18,"v":4},{"x":4.58,"x2":5,"z":1.91,"z2":2.18,"v":6},{"x":0,"x2":4.03,"z":-2.18,"z2":-1.91,"v":4},{"x":4.03,"x2":4.17,"z":-2.18,"z2":-1.91,"v":6},{"x":4.17,"x2":5,"z":-2.18,"z2":-1.91,"v":4},
{"x":0,"x2":4.86,"z":2.18,"z2":2.45,"v":4},{"x":4.86,"x2":5,"z":2.18,"z2":2.45,"v":9},{"x":0,"x2":4.17,"z":-2.45,"z2":-2.18,"v":4},{"x":4.44,"x2":4.86,"z":-2.45,"z2":-2.18,"v":4},{"x":4.72,"x2":4.86,"z":-2.73,"z2":-2.45,"v":6},
{"x":0,"x2":4.44,"z":2.45,"z2":2.73,"v":4},{"x":3.89,"x2":4.03,"z":2.45,"z2":2.73,"v":6},{"x":4.58,"x2":5,"z":2.45,"z2":2.73,"v":4},{"x":0,"x2":4.72,"z":-2.73,"z2":-2.45,"v":4},
{"x":0,"x2":0.28,"z":2.73,"z2":3,"v":4},{"x":0.42,"x2":4.44,"z":2.73,"z2":3,"v":4},{"x":4.72,"x2":5,"z":2.73,"z2":3,"v":4},{"x":0.14,"x2":4.86,"z":-3,"z2":-2.73,"v":4},{"x":1.25,"x2":1.53,"z":-3,"z2":-2.73,"v":9},
{"x":0.14,"x2":2.36,"z":3,"z2":3.27,"v":4},{"x":2.64,"x2":3.33,"z":3,"z2":3.27,"v":4},{"x":3.47,"x2":4.72,"z":3,"z2":3.27,"v":4},{"x":0.28,"x2":3.06,"z":-3.27,"z2":-3,"v":4},{"x":3.33,"x2":3.75,"z":-3.27,"z2":-3,"v":4},
{"x":0.28,"x2":0.56,"z":3.27,"z2":3.55,"v":4},{"x":0.69,"x2":2.5,"z":3.27,"z2":3.55,"v":4},{"x":2.78,"x2":4.44,"z":3.27,"z2":3.55,"v":4},{"x":0.69,"x2":2.22,"z":-3.55,"z2":-3.27,"v":4},{"x":2.5,"x2":2.64,"z":-3.55,"z2":-3.27,"v":4},{"x":3,"x2":3.33,"z":-3.55,"z2":-3.27,"v":4},
{"x":0.83,"x2":0.97,"z":3.55,"z2":3.82,"v":4},{"x":1.11,"x2":1.94,"z":3.55,"z2":3.82,"v":4},{"x":2.08,"x2":2.5,"z":3.55,"z2":3.82,"v":4},{"x":1.11,"x2":2.08,"z":-3.82,"z2":-3.55,"v":4},{"x":2.22,"x2":2.36,"z":-3.82,"z2":-3.55,"v":4},{"x":2.5,"x2":2.78,"z":-3.82,"z2":-3.55,"v":4},
{"x":1.06,"x2":1.25,"z":3.82,"z2":4.09,"v":4},{"x":1.53,"x2":1.67,"z":3.82,"z2":4.09,"v":4},{"x":1.81,"x2":1.94,"z":3.82,"z2":4.09,"v":4},{"x":1.06,"x2":1.25,"z":-4.09,"z2":-3.82,"v":4},{"x":1.42,"x2":1.67,"z":-4.09,"z2":-3.82,"v":4},{"x":3.19,"x2":3.33,"z":-4.09,"z2":-3.82,"v":4},
{"x":1.81,"x2":1.94,"z":4.09,"z2":4.36,"v":4},{"x":0.56,"x2":0.69,"z":4.36,"z2":4.64,"v":4},{"x":0.83,"x2":0.97,"z":4.64,"z2":4.91,"v":4},{"x":1.81,"x2":1.94,"z":-4.36,"z2":-4.09,"v":4},{"x":1.25,"x2":1.39,"z":-4.64,"z2":-4.36,"v":4}]
},
"concat":[
{"width":243.33,"height":227.5,"data":{"values":[{"panel":"a"}]},"resolve":{"axis":{"x":"independent","y":"independent"}},"layer":[
{"data":{"name":"a"},"mark":"rect","encoding":{"x":{"field":"x","type":"quantitative","scale":{"domain":[0,5],"nice":false},"axis":{"title":null,"orient":"bottom","labels":false,"values":[0,0.5,1,1.5,2,2.5,3,3.5,4,4.5,5],"tickSize":{"condition":{"test":"datum.value%2==0","value":-9},"value":-5}}},"x2":{"field":"x2"},"y":{"field":"z","type":"quantitative","scale":{"domain":[-6,6],"nice":false},"axis":{"title":null,"orient":"left","values":[-6,-5.5,-5,-4.5,-4,-3.5,-3,-2.5,-2,-1.5,-1,-0.5,0,0.5,1,1.5,2,2.5,3,3.5,4,4.5,5,5.5,6],"labelExpr":"datum.value%2==0&&abs(datum.value)<6?format(datum.value,'d'):''","labelPadding":17,"tickSize":{"condition":{"test":"datum.value%2==0","value":-9},"value":-5}}},"y2":{"field":"z2"},"color":{"field":"v","type":"quantitative","legend":null,"scale":{"type":"threshold","domain":[2.5,5,7.5,10,12.5,15,17.5,20,22.5,25,27.5],"range":["#fcfdbf","#fecf92","#fea671","#fc7f5f","#ee5b5e","#cf4070","#ab337c","#832681","#5f187f","#35106a","#140e36","#000004"]}},"stroke":{"field":"v","type":"quantitative","legend":null,"scale":{"type":"threshold","domain":[2.5,5,7.5,10,12.5,15,17.5,20,22.5,25,27.5],"range":["#fcfdbf","#fecf92","#fea671","#fc7f5f","#ee5b5e","#cf4070","#ab337c","#832681","#5f187f","#35106a","#140e36","#000004"]}}}},
{"data":{"name":"contours"},"mark":{"type":"line","color":"black","strokeWidth":1,"clip":true,"interpolate":"catmull-rom"},"encoding":{"x":{"field":"x","type":"quantitative","axis":{"title":null,"orient":"top","labels":false,"values":[0,0.5,1,1.5,2,2.5,3,3.5,4,4.5,5],"tickSize":{"condition":{"test":"datum.value%2==0","value":-9},"value":-5}}},"y":{"field":"z","type":"quantitative","axis":{"title":null,"orient":"right","labels":false,"values":[-6,-5.5,-5,-4.5,-4,-3.5,-3,-2.5,-2,-1.5,-1,-0.5,0,0.5,1,1.5,2,2.5,3,3.5,4,4.5,5,5.5,6],"tickSize":{"condition":{"test":"datum.value%2==0","value":-9},"value":-5}}},"detail":{"field":"curve"},"order":{"field":"i"}}},
{"mark":{"type":"rect","fill":"white"},"encoding":{"x":{"datum":0.49,"axis":null},"x2":{"datum":0.74},"y":{"datum":4.69,"axis":null},"y2":{"datum":5.54}}},
{"mark":{"type":"rect","fill":"white"},"encoding":{"x":{"datum":3.84,"axis":null},"x2":{"datum":4.5},"y":{"datum":4.69,"axis":null},"y2":{"datum":5.54}}},
{"mark":{"type":"text","text":"a","fontWeight":"bold","fontSize":15,"align":"center","baseline":"middle"},"encoding":{"x":{"datum":0.615,"axis":null},"y":{"datum":5.12,"axis":null}}},
{"mark":{"type":"text","text":"μ","fontStyle":"italic","fontSize":17,"align":"left","baseline":"middle"},"encoding":{"x":{"datum":3.87,"axis":null},"y":{"datum":5.15,"axis":null}}},
{"mark":{"type":"text","text":"BFE","fontSize":11,"align":"left","baseline":"middle"},"encoding":{"x":{"datum":4.07,"axis":null},"y":{"datum":4.93,"axis":null}}},
{"mark":{"type":"text","text":"Z [𝑧₀]","fontSize":16,"angle":270,"align":"center","baseline":"middle"},"encoding":{"x":{"datum":-0.93,"axis":null},"y":{"datum":-6,"axis":null}}}
]},
{"width":243.33,"height":227.5,"data":{"values":[{"panel":"b"}]},"resolve":{"axis":{"x":"independent","y":"independent"}},"layer":[
{"data":{"name":"b"},"mark":"rect","encoding":{"x":{"field":"x","type":"quantitative","scale":{"domain":[0,5],"nice":false},"axis":{"title":null,"orient":"bottom","labels":false,"values":[0,0.5,1,1.5,2,2.5,3,3.5,4,4.5,5],"tickSize":{"condition":{"test":"datum.value%2==0","value":-9},"value":-5}}},"x2":{"field":"x2"},"y":{"field":"z","type":"quantitative","scale":{"domain":[-6,6],"nice":false},"axis":{"title":null,"orient":"left","labels":false,"values":[-6,-5.5,-5,-4.5,-4,-3.5,-3,-2.5,-2,-1.5,-1,-0.5,0,0.5,1,1.5,2,2.5,3,3.5,4,4.5,5,5.5,6],"tickSize":{"condition":{"test":"datum.value%2==0","value":-9},"value":-5}}},"y2":{"field":"z2"},"color":{"field":"v","type":"quantitative","legend":null,"scale":{"type":"threshold","domain":[2.5,5,7.5,10,12.5,15,17.5,20,22.5,25,27.5],"range":["#fcfdbf","#fecf92","#fea671","#fc7f5f","#ee5b5e","#cf4070","#ab337c","#832681","#5f187f","#35106a","#140e36","#000004"]}},"stroke":{"field":"v","type":"quantitative","legend":null,"scale":{"type":"threshold","domain":[2.5,5,7.5,10,12.5,15,17.5,20,22.5,25,27.5],"range":["#fcfdbf","#fecf92","#fea671","#fc7f5f","#ee5b5e","#cf4070","#ab337c","#832681","#5f187f","#35106a","#140e36","#000004"]}}}},
{"data":{"name":"contours"},"mark":{"type":"line","color":"black","strokeWidth":1,"clip":true,"interpolate":"catmull-rom"},"encoding":{"x":{"field":"x","type":"quantitative","axis":{"title":null,"orient":"top","labels":false,"values":[0,0.5,1,1.5,2,2.5,3,3.5,4,4.5,5],"tickSize":{"condition":{"test":"datum.value%2==0","value":-9},"value":-5}}},"y":{"field":"z","type":"quantitative","axis":{"title":null,"orient":"right","labels":false,"values":[-6,-5.5,-5,-4.5,-4,-3.5,-3,-2.5,-2,-1.5,-1,-0.5,0,0.5,1,1.5,2,2.5,3,3.5,4,4.5,5,5.5,6],"tickSize":{"condition":{"test":"datum.value%2==0","value":-9},"value":-5}}},"detail":{"field":"curve"},"order":{"field":"i"}}},
{"mark":{"type":"rect","fill":"white"},"encoding":{"x":{"datum":0.46,"axis":null},"x2":{"datum":0.73},"y":{"datum":4.69,"axis":null},"y2":{"datum":5.54}}},
{"mark":{"type":"rect","fill":"white"},"encoding":{"x":{"datum":3.59,"axis":null},"x2":{"datum":4.5},"y":{"datum":4.69,"axis":null},"y2":{"datum":5.54}}},
{"mark":{"type":"text","text":"b","fontWeight":"bold","fontSize":15,"align":"center","baseline":"middle"},"encoding":{"x":{"datum":0.6,"axis":null},"y":{"datum":5.12,"axis":null}}},
{"mark":{"type":"text","text":"μ","fontStyle":"italic","fontSize":17,"align":"left","baseline":"middle"},"encoding":{"x":{"datum":3.62,"axis":null},"y":{"datum":5.15,"axis":null}}},
{"mark":{"type":"text","text":"direct","fontSize":11,"align":"left","baseline":"middle"},"encoding":{"x":{"datum":3.82,"axis":null},"y":{"datum":4.93,"axis":null}}}
]},
{"width":243.33,"height":227.5,"data":{"values":[{"panel":"c"}]},"resolve":{"axis":{"x":"independent","y":"independent"}},"layer":[
{"data":{"name":"c"},"mark":"rect","encoding":{"x":{"field":"x","type":"quantitative","scale":{"domain":[0,5],"nice":false},"axis":{"title":null,"orient":"bottom","labels":false,"values":[0,0.5,1,1.5,2,2.5,3,3.5,4,4.5,5],"tickSize":{"condition":{"test":"datum.value%2==0","value":-9},"value":-5}}},"x2":{"field":"x2"},"y":{"field":"z","type":"quantitative","scale":{"domain":[-6,6],"nice":false},"axis":{"title":null,"orient":"left","labels":false,"values":[-6,-5.5,-5,-4.5,-4,-3.5,-3,-2.5,-2,-1.5,-1,-0.5,0,0.5,1,1.5,2,2.5,3,3.5,4,4.5,5,5.5,6],"tickSize":{"condition":{"test":"datum.value%2==0","value":-9},"value":-5}}},"y2":{"field":"z2"},"color":{"field":"v","type":"quantitative","legend":null,"scale":{"type":"threshold","domain":[2.5,5,7.5,10,12.5,15,17.5,20,22.5,25,27.5],"range":["#fcfdbf","#fecf92","#fea671","#fc7f5f","#ee5b5e","#cf4070","#ab337c","#832681","#5f187f","#35106a","#140e36","#000004"]}},"stroke":{"field":"v","type":"quantitative","legend":null,"scale":{"type":"threshold","domain":[2.5,5,7.5,10,12.5,15,17.5,20,22.5,25,27.5],"range":["#fcfdbf","#fecf92","#fea671","#fc7f5f","#ee5b5e","#cf4070","#ab337c","#832681","#5f187f","#35106a","#140e36","#000004"]}}}},
{"data":{"name":"contours"},"mark":{"type":"line","color":"black","strokeWidth":1,"clip":true,"interpolate":"catmull-rom"},"encoding":{"x":{"field":"x","type":"quantitative","axis":{"title":null,"orient":"top","labels":false,"values":[0,0.5,1,1.5,2,2.5,3,3.5,4,4.5,5],"tickSize":{"condition":{"test":"datum.value%2==0","value":-9},"value":-5}}},"y":{"field":"z","type":"quantitative","axis":{"title":null,"orient":"right","labels":false,"values":[-6,-5.5,-5,-4.5,-4,-3.5,-3,-2.5,-2,-1.5,-1,-0.5,0,0.5,1,1.5,2,2.5,3,3.5,4,4.5,5,5.5,6],"tickSize":{"condition":{"test":"datum.value%2==0","value":-9},"value":-5}}},"detail":{"field":"curve"},"order":{"field":"i"}}},
{"mark":{"type":"rect","fill":"white"},"encoding":{"x":{"datum":0.47,"axis":null},"x2":{"datum":0.7},"y":{"datum":4.69,"axis":null},"y2":{"datum":5.54}}},
{"mark":{"type":"rect","fill":"white"},"encoding":{"x":{"datum":3.04,"axis":null},"x2":{"datum":4.48},"y":{"datum":4.69,"axis":null},"y2":{"datum":5.54}}},
{"mark":{"type":"text","text":"c","fontWeight":"bold","fontSize":15,"align":"center","baseline":"middle"},"encoding":{"x":{"datum":0.585,"axis":null},"y":{"datum":5.12,"axis":null}}},
{"mark":{"type":"text","text":"μ","fontStyle":"italic","fontSize":17,"align":"left","baseline":"middle"},"encoding":{"x":{"datum":3.07,"axis":null},"y":{"datum":5.15,"axis":null}}},
{"mark":{"type":"text","text":"gadget − 2","fontSize":11,"align":"left","baseline":"middle"},"encoding":{"x":{"datum":3.27,"axis":null},"y":{"datum":4.93,"axis":null}}}
]},
{"width":35,"height":227.5,"view":{"fill":"white"},"data":{"values":[{"panel":"bar top"}]},"layer":[
{"data":{"name":"bar"},"transform":[{"filter":"datum.lo>=15"}],"mark":"rect","encoding":{"x":{"datum":0,"scale":{"domain":[-0.944,1],"nice":false},"axis":null},"x2":{"datum":1},"y":{"field":"lo","type":"quantitative","scale":{"domain":[15,30],"nice":false},"axis":{"title":null,"orient":"right","domain":false,"values":[17.5,20,22.5,25,27.5,30],"labelExpr":"datum.value%5==0?format(datum.value,'d'):''","labelPadding":7,"tickSize":{"condition":{"test":"datum.value%5==0","value":8},"value":5}}},"y2":{"field":"hi"},"color":{"field":"v","type":"quantitative","legend":null,"scale":{"type":"threshold","domain":[2.5,5,7.5,10,12.5,15,17.5,20,22.5,25,27.5],"range":["#fcfdbf","#fecf92","#fea671","#fc7f5f","#ee5b5e","#cf4070","#ab337c","#832681","#5f187f","#35106a","#140e36","#000004"]}},"stroke":{"field":"v","type":"quantitative","legend":null,"scale":{"type":"threshold","domain":[2.5,5,7.5,10,12.5,15,17.5,20,22.5,25,27.5],"range":["#fcfdbf","#fecf92","#fea671","#fc7f5f","#ee5b5e","#cf4070","#ab337c","#832681","#5f187f","#35106a","#140e36","#000004"]}}}},
{"mark":{"type":"rule","color":"black","strokeWidth":1.5},"encoding":{"x":{"datum":0,"axis":null},"y":{"datum":15,"axis":null},"y2":{"datum":30}}},
{"mark":{"type":"rule","color":"black","strokeWidth":1.5},"encoding":{"x":{"datum":1,"axis":null},"y":{"datum":15,"axis":null},"y2":{"datum":30}}},
{"mark":{"type":"rule","color":"black","strokeWidth":1.5},"encoding":{"x":{"datum":0,"axis":null},"x2":{"datum":1},"y":{"datum":30,"axis":null}}}
],"resolve":{"axis":{"y":"independent"}}},
{"width":243.33,"height":227.5,"data":{"values":[{"panel":"d"}]},"resolve":{"axis":{"x":"independent","y":"independent"}},"layer":[
{"data":{"name":"d"},"mark":"rect","encoding":{"x":{"field":"x","type":"quantitative","scale":{"domain":[0,5],"nice":false},"axis":{"title":null,"orient":"bottom","labelExpr":"datum.value%2==0?format(datum.value,'d'):''","labelPadding":15,"values":[0,0.5,1,1.5,2,2.5,3,3.5,4,4.5,5],"tickSize":{"condition":{"test":"datum.value%2==0","value":-9},"value":-5}}},"x2":{"field":"x2"},"y":{"field":"z","type":"quantitative","scale":{"domain":[-6,6],"nice":false},"axis":{"title":null,"orient":"left","values":[-6,-5.5,-5,-4.5,-4,-3.5,-3,-2.5,-2,-1.5,-1,-0.5,0,0.5,1,1.5,2,2.5,3,3.5,4,4.5,5,5.5,6],"labelExpr":"datum.value%2==0&&abs(datum.value)<6?format(datum.value,'d'):''","labelPadding":17,"tickSize":{"condition":{"test":"datum.value%2==0","value":-9},"value":-5}}},"y2":{"field":"z2"},"color":{"field":"v","type":"quantitative","legend":null,"scale":{"type":"threshold","domain":[2.5,5,7.5,10,12.5,15,17.5,20,22.5,25,27.5],"range":["#fcfdbf","#fecf92","#fea671","#fc7f5f","#ee5b5e","#cf4070","#ab337c","#832681","#5f187f","#35106a","#140e36","#000004"]}},"stroke":{"field":"v","type":"quantitative","legend":null,"scale":{"type":"threshold","domain":[2.5,5,7.5,10,12.5,15,17.5,20,22.5,25,27.5],"range":["#fcfdbf","#fecf92","#fea671","#fc7f5f","#ee5b5e","#cf4070","#ab337c","#832681","#5f187f","#35106a","#140e36","#000004"]}}}},
{"data":{"name":"contours"},"mark":{"type":"line","color":"black","strokeWidth":1,"clip":true,"interpolate":"catmull-rom"},"encoding":{"x":{"field":"x","type":"quantitative","axis":{"title":null,"orient":"top","labels":false,"values":[0,0.5,1,1.5,2,2.5,3,3.5,4,4.5,5],"tickSize":{"condition":{"test":"datum.value%2==0","value":-9},"value":-5}}},"y":{"field":"z","type":"quantitative","axis":{"title":null,"orient":"right","labels":false,"values":[-6,-5.5,-5,-4.5,-4,-3.5,-3,-2.5,-2,-1.5,-1,-0.5,0,0.5,1,1.5,2,2.5,3,3.5,4,4.5,5,5.5,6],"tickSize":{"condition":{"test":"datum.value%2==0","value":-9},"value":-5}}},"detail":{"field":"curve"},"order":{"field":"i"}}},
{"mark":{"type":"rect","fill":"white"},"encoding":{"x":{"datum":0.49,"axis":null},"x2":{"datum":0.74},"y":{"datum":4.69,"axis":null},"y2":{"datum":5.54}}},
{"mark":{"type":"rect","fill":"white"},"encoding":{"x":{"datum":3.84,"axis":null},"x2":{"datum":4.5},"y":{"datum":4.69,"axis":null},"y2":{"datum":5.54}}},
{"mark":{"type":"text","text":"d","fontWeight":"bold","fontSize":15,"align":"center","baseline":"middle"},"encoding":{"x":{"datum":0.615,"axis":null},"y":{"datum":5.12,"axis":null}}},
{"mark":{"type":"text","text":"σ","fontStyle":"italic","fontSize":17,"align":"left","baseline":"middle"},"encoding":{"x":{"datum":3.87,"axis":null},"y":{"datum":5.15,"axis":null}}},
{"mark":{"type":"text","text":"BFE","fontSize":11,"align":"left","baseline":"middle"},"encoding":{"x":{"datum":4.07,"axis":null},"y":{"datum":4.93,"axis":null}}}
]},
{"width":243.33,"height":227.5,"data":{"values":[{"panel":"e"}]},"resolve":{"axis":{"x":"independent","y":"independent"}},"layer":[
{"data":{"name":"e"},"mark":"rect","encoding":{"x":{"field":"x","type":"quantitative","scale":{"domain":[0,5],"nice":false},"axis":{"title":null,"orient":"bottom","labelExpr":"datum.value%2==0?format(datum.value,'d'):''","labelPadding":15,"values":[0,0.5,1,1.5,2,2.5,3,3.5,4,4.5,5],"tickSize":{"condition":{"test":"datum.value%2==0","value":-9},"value":-5}}},"x2":{"field":"x2"},"y":{"field":"z","type":"quantitative","scale":{"domain":[-6,6],"nice":false},"axis":{"title":null,"orient":"left","labels":false,"values":[-6,-5.5,-5,-4.5,-4,-3.5,-3,-2.5,-2,-1.5,-1,-0.5,0,0.5,1,1.5,2,2.5,3,3.5,4,4.5,5,5.5,6],"tickSize":{"condition":{"test":"datum.value%2==0","value":-9},"value":-5}}},"y2":{"field":"z2"},"color":{"field":"v","type":"quantitative","legend":null,"scale":{"type":"threshold","domain":[2.5,5,7.5,10,12.5,15,17.5,20,22.5,25,27.5],"range":["#fcfdbf","#fecf92","#fea671","#fc7f5f","#ee5b5e","#cf4070","#ab337c","#832681","#5f187f","#35106a","#140e36","#000004"]}},"stroke":{"field":"v","type":"quantitative","legend":null,"scale":{"type":"threshold","domain":[2.5,5,7.5,10,12.5,15,17.5,20,22.5,25,27.5],"range":["#fcfdbf","#fecf92","#fea671","#fc7f5f","#ee5b5e","#cf4070","#ab337c","#832681","#5f187f","#35106a","#140e36","#000004"]}}}},
{"data":{"name":"contours"},"mark":{"type":"line","color":"black","strokeWidth":1,"clip":true,"interpolate":"catmull-rom"},"encoding":{"x":{"field":"x","type":"quantitative","axis":{"title":null,"orient":"top","labels":false,"values":[0,0.5,1,1.5,2,2.5,3,3.5,4,4.5,5],"tickSize":{"condition":{"test":"datum.value%2==0","value":-9},"value":-5}}},"y":{"field":"z","type":"quantitative","axis":{"title":null,"orient":"right","labels":false,"values":[-6,-5.5,-5,-4.5,-4,-3.5,-3,-2.5,-2,-1.5,-1,-0.5,0,0.5,1,1.5,2,2.5,3,3.5,4,4.5,5,5.5,6],"tickSize":{"condition":{"test":"datum.value%2==0","value":-9},"value":-5}}},"detail":{"field":"curve"},"order":{"field":"i"}}},
{"mark":{"type":"rect","fill":"white"},"encoding":{"x":{"datum":0.46,"axis":null},"x2":{"datum":0.73},"y":{"datum":4.69,"axis":null},"y2":{"datum":5.54}}},
{"mark":{"type":"rect","fill":"white"},"encoding":{"x":{"datum":3.59,"axis":null},"x2":{"datum":4.5},"y":{"datum":4.69,"axis":null},"y2":{"datum":5.54}}},
{"mark":{"type":"text","text":"e","fontWeight":"bold","fontSize":15,"align":"center","baseline":"middle"},"encoding":{"x":{"datum":0.6,"axis":null},"y":{"datum":5.12,"axis":null}}},
{"mark":{"type":"text","text":"σ","fontStyle":"italic","fontSize":17,"align":"left","baseline":"middle"},"encoding":{"x":{"datum":3.62,"axis":null},"y":{"datum":5.15,"axis":null}}},
{"mark":{"type":"text","text":"direct","fontSize":11,"align":"left","baseline":"middle"},"encoding":{"x":{"datum":3.82,"axis":null},"y":{"datum":4.93,"axis":null}}},
{"mark":{"type":"text","text":"X [","fontSize":15,"align":"left","baseline":"middle"},"encoding":{"x":{"datum":2.03,"axis":null},"y":{"datum":-7.7,"axis":null}}},
{"mark":{"type":"text","text":"R","fontSize":15,"fontStyle":"italic","align":"left","baseline":"middle"},"encoding":{"x":{"datum":2.47,"axis":null},"y":{"datum":-7.7,"axis":null}}},
{"mark":{"type":"text","text":"d","fontSize":11,"fontStyle":"italic","align":"left","baseline":"middle"},"encoding":{"x":{"datum":2.69,"axis":null},"y":{"datum":-7.88,"axis":null}}},
{"mark":{"type":"text","text":"]","fontSize":15,"align":"left","baseline":"middle"},"encoding":{"x":{"datum":2.84,"axis":null},"y":{"datum":-7.7,"axis":null}}}
]},
{"width":243.33,"height":227.5,"data":{"values":[{"panel":"f"}]},"resolve":{"axis":{"x":"independent","y":"independent"}},"layer":[
{"data":{"name":"f"},"mark":"rect","encoding":{"x":{"field":"x","type":"quantitative","scale":{"domain":[0,5],"nice":false},"axis":{"title":null,"orient":"bottom","labelExpr":"datum.value%2==0?format(datum.value,'d'):''","labelPadding":15,"values":[0,0.5,1,1.5,2,2.5,3,3.5,4,4.5,5],"tickSize":{"condition":{"test":"datum.value%2==0","value":-9},"value":-5}}},"x2":{"field":"x2"},"y":{"field":"z","type":"quantitative","scale":{"domain":[-6,6],"nice":false},"axis":{"title":null,"orient":"left","labels":false,"values":[-6,-5.5,-5,-4.5,-4,-3.5,-3,-2.5,-2,-1.5,-1,-0.5,0,0.5,1,1.5,2,2.5,3,3.5,4,4.5,5,5.5,6],"tickSize":{"condition":{"test":"datum.value%2==0","value":-9},"value":-5}}},"y2":{"field":"z2"},"color":{"field":"v","type":"quantitative","legend":null,"scale":{"type":"threshold","domain":[2.5,5,7.5,10,12.5,15,17.5,20,22.5,25,27.5],"range":["#fcfdbf","#fecf92","#fea671","#fc7f5f","#ee5b5e","#cf4070","#ab337c","#832681","#5f187f","#35106a","#140e36","#000004"]}},"stroke":{"field":"v","type":"quantitative","legend":null,"scale":{"type":"threshold","domain":[2.5,5,7.5,10,12.5,15,17.5,20,22.5,25,27.5],"range":["#fcfdbf","#fecf92","#fea671","#fc7f5f","#ee5b5e","#cf4070","#ab337c","#832681","#5f187f","#35106a","#140e36","#000004"]}}}},
{"data":{"name":"contours"},"mark":{"type":"line","color":"black","strokeWidth":1,"clip":true,"interpolate":"catmull-rom"},"encoding":{"x":{"field":"x","type":"quantitative","axis":{"title":null,"orient":"top","labels":false,"values":[0,0.5,1,1.5,2,2.5,3,3.5,4,4.5,5],"tickSize":{"condition":{"test":"datum.value%2==0","value":-9},"value":-5}}},"y":{"field":"z","type":"quantitative","axis":{"title":null,"orient":"right","labels":false,"values":[-6,-5.5,-5,-4.5,-4,-3.5,-3,-2.5,-2,-1.5,-1,-0.5,0,0.5,1,1.5,2,2.5,3,3.5,4,4.5,5,5.5,6],"tickSize":{"condition":{"test":"datum.value%2==0","value":-9},"value":-5}}},"detail":{"field":"curve"},"order":{"field":"i"}}},
{"mark":{"type":"rect","fill":"white"},"encoding":{"x":{"datum":0.47,"axis":null},"x2":{"datum":0.7},"y":{"datum":4.69,"axis":null},"y2":{"datum":5.54}}},
{"mark":{"type":"rect","fill":"white"},"encoding":{"x":{"datum":3.04,"axis":null},"x2":{"datum":4.48},"y":{"datum":4.69,"axis":null},"y2":{"datum":5.54}}},
{"mark":{"type":"text","text":"f","fontWeight":"bold","fontSize":15,"align":"center","baseline":"middle"},"encoding":{"x":{"datum":0.585,"axis":null},"y":{"datum":5.12,"axis":null}}},
{"mark":{"type":"text","text":"σ","fontStyle":"italic","fontSize":17,"align":"left","baseline":"middle"},"encoding":{"x":{"datum":3.07,"axis":null},"y":{"datum":5.15,"axis":null}}},
{"mark":{"type":"text","text":"gadget − 2","fontSize":11,"align":"left","baseline":"middle"},"encoding":{"x":{"datum":3.27,"axis":null},"y":{"datum":4.93,"axis":null}}}
]},
{"width":35,"height":227.5,"view":{"fill":"white"},"data":{"values":[{"panel":"bar bottom"}]},"layer":[
{"data":{"name":"bar"},"transform":[{"filter":"datum.lo<15"}],"mark":"rect","encoding":{"x":{"datum":0,"scale":{"domain":[-0.944,1],"nice":false},"axis":null},"x2":{"datum":1},"y":{"field":"lo","type":"quantitative","scale":{"domain":[0,15],"nice":false},"axis":{"title":null,"orient":"right","domain":false,"values":[0,2.5,5,7.5,10,12.5,15],"labelExpr":"datum.value%5==0?format(datum.value,'d'):''","labelPadding":7,"tickSize":{"condition":{"test":"datum.value%5==0","value":8},"value":5}}},"y2":{"field":"hi"},"color":{"field":"v","type":"quantitative","legend":null,"scale":{"type":"threshold","domain":[2.5,5,7.5,10,12.5,15,17.5,20,22.5,25,27.5],"range":["#fcfdbf","#fecf92","#fea671","#fc7f5f","#ee5b5e","#cf4070","#ab337c","#832681","#5f187f","#35106a","#140e36","#000004"]}},"stroke":{"field":"v","type":"quantitative","legend":null,"scale":{"type":"threshold","domain":[2.5,5,7.5,10,12.5,15,17.5,20,22.5,25,27.5],"range":["#fcfdbf","#fecf92","#fea671","#fc7f5f","#ee5b5e","#cf4070","#ab337c","#832681","#5f187f","#35106a","#140e36","#000004"]}}}},
{"mark":{"type":"rule","color":"black","strokeWidth":1.5},"encoding":{"x":{"datum":0,"axis":null},"y":{"datum":0,"axis":null},"y2":{"datum":15}}},
{"mark":{"type":"rule","color":"black","strokeWidth":1.5},"encoding":{"x":{"datum":1,"axis":null},"y":{"datum":0,"axis":null},"y2":{"datum":15}}},
{"mark":{"type":"rule","color":"black","strokeWidth":1.5},"encoding":{"x":{"datum":0,"axis":null},"x2":{"datum":1},"y":{"datum":0,"axis":null}}},
{"mark":{"type":"text","text":"F","fontSize":15,"fontStyle":"italic","angle":270,"align":"left","baseline":"middle"},"encoding":{"x":{"datum":3.62,"axis":null},"y":{"datum":8.44,"axis":null}}},
{"mark":{"type":"text","text":"z","fontSize":11,"fontStyle":"italic","angle":270,"align":"left","baseline":"middle"},"encoding":{"x":{"datum":3.82,"axis":null},"y":{"datum":9.02,"axis":null}}},
{"mark":{"type":"text","text":"relative force error [%]","fontSize":15,"angle":270,"align":"left","baseline":"middle"},"encoding":{"x":{"datum":3.62,"axis":null},"y":{"datum":9.76,"axis":null}}}
],"resolve":{"axis":{"y":"independent"}}}
]}
